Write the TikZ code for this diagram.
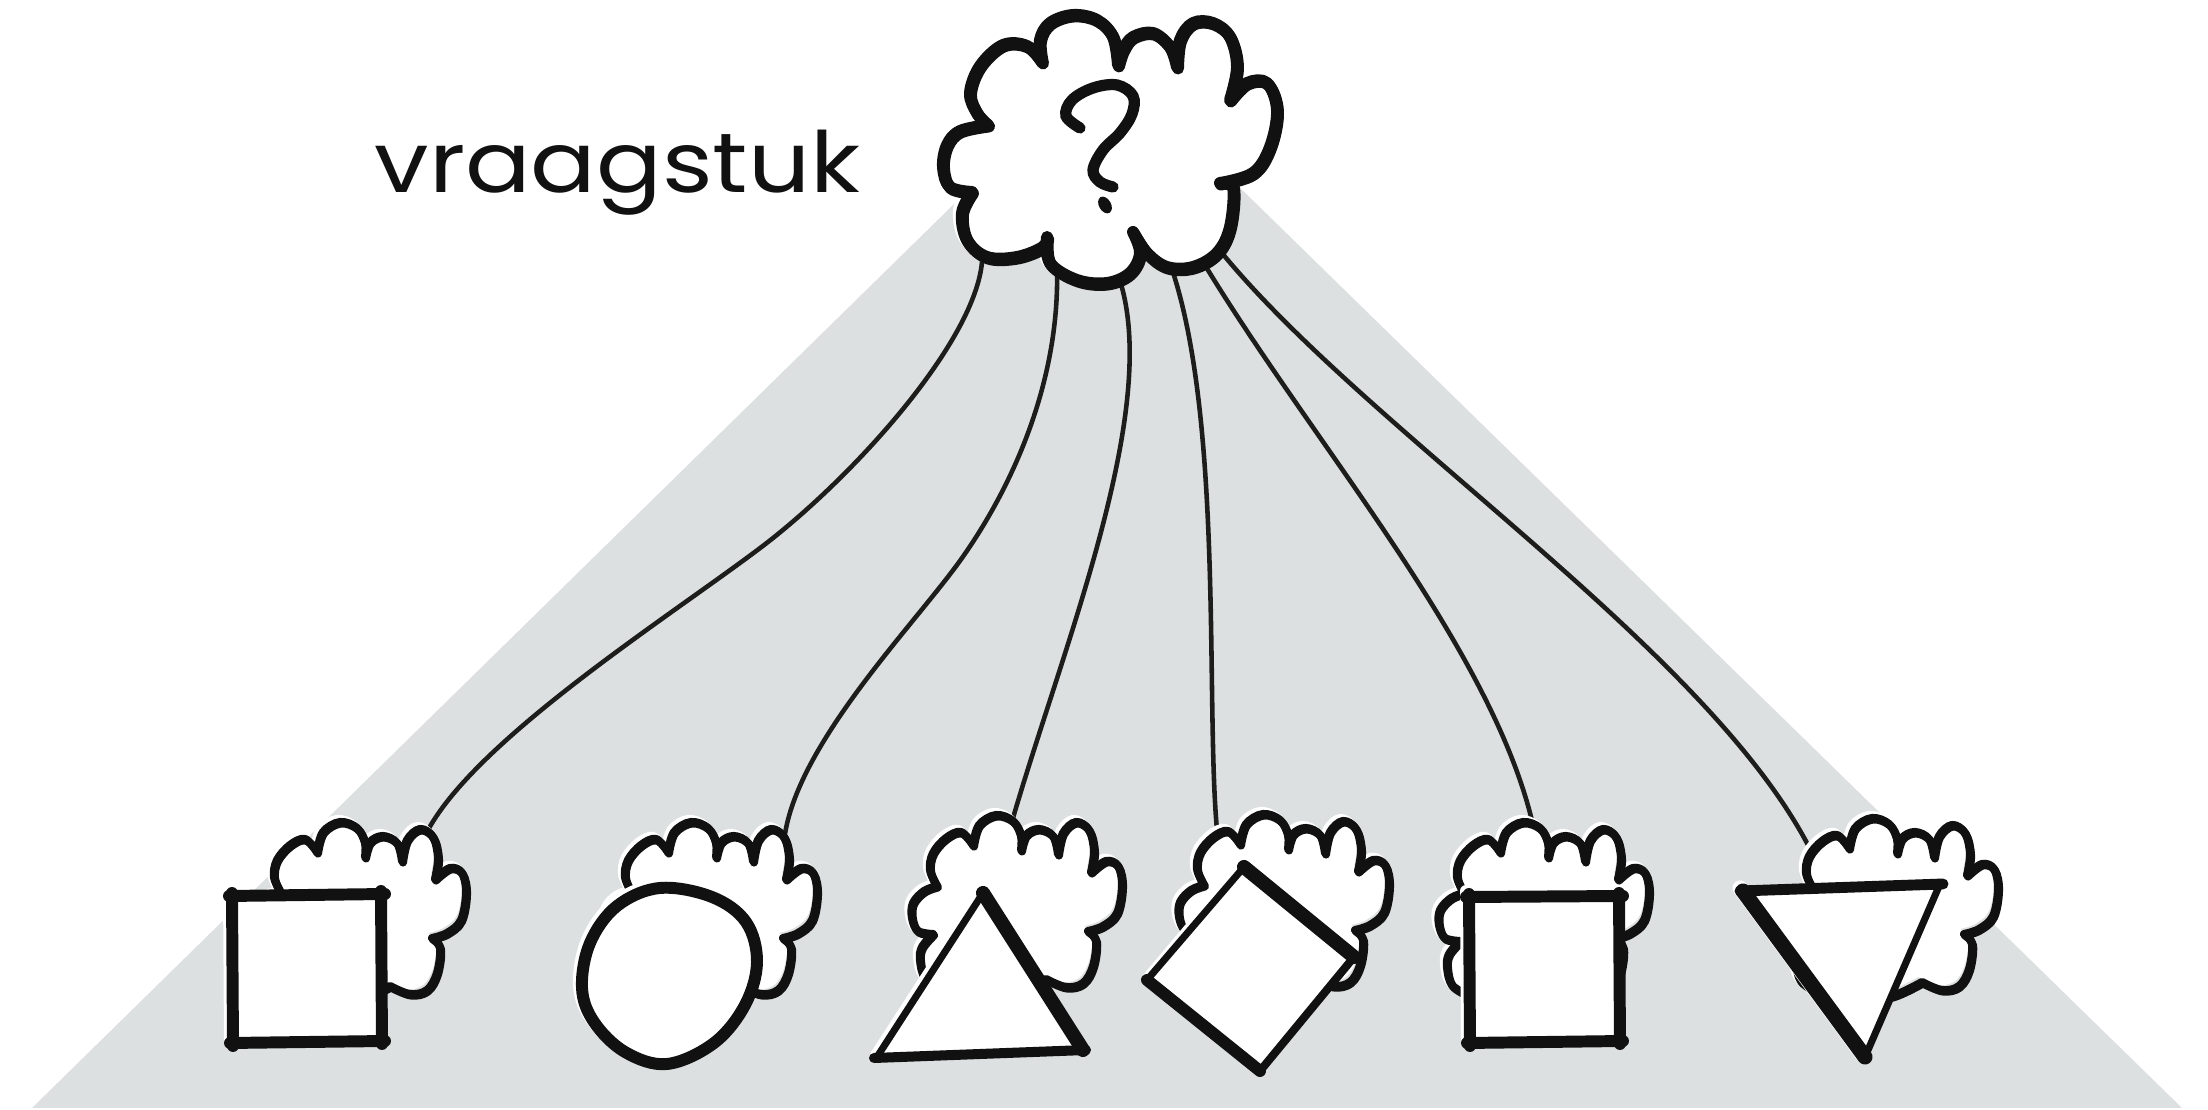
\documentclass[tikz,border=0pt]{standalone}
\usepackage{fontspec}
\usepackage{graphicx}
\newfontfamily\handfont{Poppins}
\definecolor{bggray}{RGB}{221,224,225}
\definecolor{ink}{RGB}{17,17,17}
\definecolor{wire}{RGB}{29,29,27}
\definecolor{cshade}{RGB}{222,224,225}

\newcommand\smallcloudpath{%
plot[smooth,tension=0.6] coordinates {(285,995) (269,985) (264,967) (266,954) (277,941)}
-- plot[smooth,tension=0.6] coordinates {(277,941) (262,938) (256,925) (257,910) (268,898) (281,893)}
-- plot[smooth,tension=0.6] coordinates {(281,893) (274,877) (277,860) (290,845) (305,839) (317,852)}
-- plot[smooth,tension=0.6] coordinates {(317,852) (323,832) (340,822) (357,828) (365,843) (365,857)}
-- plot[smooth,tension=0.6] coordinates {(365,857) (370,842) (383,836) (397,843) (402,861)}
-- plot[smooth,tension=0.6] coordinates {(402,861) (407,840) (420,829) (433,837) (438,858) (435,879)}
-- plot[smooth,tension=0.6] coordinates {(435,879) (450,868) (462,873) (466,893) (461,920) (447,933) (432,938)}
-- plot[smooth,tension=0.6] coordinates {(432,938) (440,948) (437,973) (427,990) (410,994) (390,986)}
-- plot[smooth,tension=0.6] coordinates {(390,986) (360,1000) (330,1002) (300,998) (285,995)}
-- cycle}

\newcommand\maincloudpath{%
plot[smooth,tension=0.6] coordinates {(1042,62) (1027,46) (1003,45) (980,66) (970,93) (977,113) (988,125)}
-- plot[smooth,tension=0.6] coordinates {(988,125) (960,131) (947,145) (943,167) (950,187) (972,192)}
-- plot[smooth,tension=0.6] coordinates {(972,192) (962,213) (967,240) (987,257) (1017,257) (1043,247) (1047,237)}
-- plot[smooth,tension=0.6] coordinates {(1047,237) (1050,263) (1077,280) (1107,283) (1130,273) (1140,253) (1133,232)}
-- plot[smooth,tension=0.6] coordinates {(1133,232) (1147,253) (1167,267) (1193,267) (1217,253) (1230,227) (1233,187) (1220,183)}
-- plot[smooth,tension=0.6] coordinates {(1220,183) (1253,173) (1270,147) (1277,110) (1267,83) (1247,83) (1230,100)}
-- plot[smooth,tension=0.6] coordinates {(1230,100) (1237,67) (1230,37) (1213,23) (1193,23) (1180,40) (1177,67)}
-- plot[smooth,tension=0.6] coordinates {(1177,67) (1170,47) (1153,33) (1133,37) (1123,50) (1118,65)}
-- plot[smooth,tension=0.6] coordinates {(1118,65) (1113,37) (1097,20) (1073,15) (1050,23) (1040,40) (1042,62)}
-- cycle}

\newcommand\drawcloud[2]{%
  \draw[white, line width=#2, line join=round, shift={(-3,-3)}] #1;
  \fill[cshade] #1;
  \begin{scope}\clip #1; \fill[white, shift={(-4,-5)}] #1; \end{scope}
  \draw[ink, line width=#2, line join=round] #1;
  \draw[ink, line width=#2, line join=round, shift={(1,1.5)}] #1;
}

\newcommand\eggpts{(660,888) (712,897) (746,922) (757,962) (745,1005) (714,1043) (667,1064) (625,1052) (594,1022) (582,988) (590,943) (617,906)}

\tikzset{
  wireline/.style={draw=wire, line width=1.3pt},
  edge/.style={draw=ink, line cap=round, line join=round},
  hilite/.style={draw=white, line cap=round, line join=round, shift={(-3,-3)}},
}

\begin{document}
\begin{tikzpicture}[x=0.01cm, y=-0.01cm]
\useasboundingbox (0,0) rectangle (2208,1110);
\fill[white] (0,0) rectangle (2208,1110);
% grey spotlight
\fill[bggray] (32,1108) -- (1105,56) -- (2182,1108) -- cycle;

% connector end points
\coordinate (m1) at (982,262);
\coordinate (m2) at (1057,268);
\coordinate (m3) at (1117,272);
\coordinate (m4) at (1165,250);
\coordinate (m5) at (1190,240);
\coordinate (m6) at (1210,238);
\coordinate (s1) at (428,830);
\coordinate (s2) at (785,834);
\coordinate (s3) at (1013,818);
\coordinate (s4) at (1217,830);
\coordinate (s5) at (1533,825);
\coordinate (s6) at (1808,845);

\draw[wireline] (m1) .. controls (975,340) and (860,470) .. (768,542) .. controls (680,610) and (480,735) .. (s1);
\draw[wireline] (m2) .. controls (1060,385) and (1010,490) .. (962,558) .. controls (917,622) and (800,740) .. (s2);
\draw[wireline] (m3) .. controls (1165,400) and (1065,640) .. (s3);
\draw[wireline] (m4) .. controls (1225,400) and (1205,700) .. (s4);
\draw[wireline] (m5) .. controls (1300,430) and (1490,640) .. (s5);
\draw[wireline] (m6) .. controls (1350,420) and (1700,640) .. (s6);

% main cloud
\drawcloud{\maincloudpath}{3.4pt}
% question mark
\draw[ink, line width=3.2pt, line cap=round] plot[smooth, tension=0.6] coordinates {(1080,128) (1066,116) (1072,100) (1093,88) (1117,85) (1133,96) (1132,114) (1120,133) (1103,150) (1093,170) (1100,182) (1113,187)};
\fill[ink, rotate around={30:(1105,205)}] (1105,205) ellipse [x radius=6, y radius=9];

% label
\node[anchor=base west, inner sep=0pt, text=ink] (label) at (374,193) {\handfont\fontsize{24pt}{28pt}\selectfont\scalebox{1.15}[1]{vraagstuk}};

% small clouds
\begin{scope}\drawcloud{\smallcloudpath}{2.3pt}\end{scope}
\begin{scope}[shift={(351,0)}]\drawcloud{\smallcloudpath}{2.3pt}\end{scope}
\begin{scope}[shift={(656,-7)}]\drawcloud{\smallcloudpath}{2.3pt}\end{scope}
\begin{scope}[shift={(923,-8)}]\drawcloud{\smallcloudpath}{2.3pt}\end{scope}
\begin{scope}[shift={(1183,0)}]\drawcloud{\smallcloudpath}{2.3pt}\end{scope}
\begin{scope}[shift={(1532,-4)}]\drawcloud{\smallcloudpath}{2.3pt}\end{scope}

% shape 1: square
\draw[hilite, line width=3.4pt] (232,893) -- (233,1046);
\fill[white] (233,896) -- (381,894) -- (382,1041) -- (233,1043) -- cycle;
\draw[edge, line width=3.4pt] (229,896) -- (385,894);
\draw[edge, line width=3.4pt] (381,891) -- (382,1044);
\draw[edge, line width=3.4pt] (385,1041) -- (230,1043);
\draw[edge, line width=3.4pt] (233,1046) -- (232,893);

% shape 2: egg-shaped circle
\draw[hilite, line width=3.4pt] plot[smooth cycle, tension=0.6] coordinates {\eggpts};
\fill[white] plot[smooth cycle, tension=0.6] coordinates {\eggpts};
\draw[edge, line width=3.4pt] plot[smooth cycle, tension=0.6] coordinates {\eggpts};

% shape 3: triangle
\draw[hilite, line width=2pt] (983,893) -- (877,1057);
\fill[white] (983,893) -- (1083,1050) -- (877,1057) -- cycle;
\draw[edge, line width=2pt] (983,893) -- (877,1057);
\draw[edge, line width=4pt] (983,893) -- (1083,1050);
\draw[edge, line width=2.85pt] (874,1058) -- (1086,1050);

% shape 4: diamond
\draw[hilite, line width=2pt] (1149,980) -- (1244,867);
\fill[white] (1244,867) -- (1354,957) -- (1260,1071) -- (1147,980) -- cycle;
\draw[edge, line width=4pt] (1244,867) -- (1354,957);
\draw[edge, line width=2.3pt] (1354,957) -- (1260,1071);
\draw[edge, line width=3.4pt] (1260,1071) -- (1147,980);
\draw[edge, line width=2pt] (1147,980) -- (1244,867);

% shape 5: square
\draw[hilite, line width=3.4pt] (1469,894) -- (1470,1046);
\fill[white] (1470,897) -- (1619,896) -- (1620,1041) -- (1469,1042) -- cycle;
\draw[edge, line width=3.4pt] (1466,897) -- (1623,896);
\draw[edge, line width=3.4pt] (1619,893) -- (1620,1044);
\draw[edge, line width=3.4pt] (1623,1041) -- (1467,1043);
\draw[edge, line width=3.4pt] (1470,1046) -- (1469,894);

% shape 6: inverted triangle
\draw[hilite, line width=4.3pt] (1743,891) -- (1865,1057);
\fill[white] (1743,891) -- (1940,884) -- (1865,1057) -- cycle;
\draw[edge, line width=3.1pt] (1740,891) -- (1943,884);
\draw[edge, line width=4.3pt] (1743,891) -- (1865,1057);
\draw[edge, line width=2pt] (1940,884) -- (1865,1057);
\end{tikzpicture}
\end{document}
